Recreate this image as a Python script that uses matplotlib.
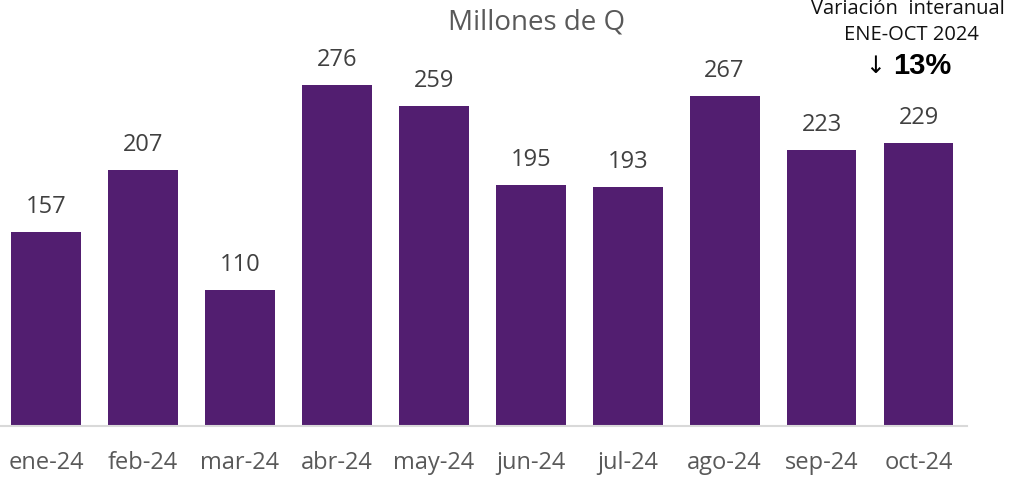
import matplotlib
matplotlib.use("Agg")
import matplotlib.pyplot as plt

categories = ["ene-24", "feb-24", "mar-24", "abr-24", "may-24", "jun-24",
              "jul-24", "ago-24", "sep-24", "oct-24"]
values = [157, 207, 110, 276, 259, 195, 193, 267, 223, 229]
title = "Millones de Q"
note_lines = ["Variación  interanual", "ENE-OCT 2024"]
note_arrow = "↓"
note_value = "13%"

plt.rcParams['font.family'] = ['Open Sans', 'DejaVu Sans']

W, H = 1010, 478
fig = plt.figure(figsize=(W / 100, H / 100), dpi=100)
base_px = 426
ax = fig.add_axes([0, (H - base_px) / H, 967 / W, base_px / H])

bar_color = "#521E70"
x = list(range(len(categories)))
ax.bar(x, values, width=0.72, color=bar_color, zorder=2)
ax.set_xlim(-0.474, 9.5)
ax.set_ylim(0, base_px / 1.236)

for xi, v in zip(x, values):
    ax.annotate(f"{v}", (xi, v), xytext=(0, 25), textcoords="offset pixels",
                ha="center", va="center", fontsize=17, color="#404040")

ax.set_xticks(x)
ax.set_xticklabels(categories, fontsize=17, color="#595959")
ax.tick_params(axis="x", length=0, pad=18)
ax.set_yticks([])
for s in ["top", "right", "left"]:
    ax.spines[s].set_visible(False)
ax.spines["bottom"].set_color("#D9D9D9")
ax.spines["bottom"].set_linewidth(1.5)

fig.text(537 / W, 1 - 22 / H, title, ha="center", va="center",
         fontsize=20, color="#595959")
fig.text(908 / W, 1 - 9 / H, note_lines[0], ha="center", va="center",
         fontsize=14.5, color="#111111")
fig.text(911 / W, 1 - 35 / H, note_lines[1], ha="center", va="center",
         fontsize=14.5, color="#111111")
fig.text(875 / W, 1 - 66 / H, note_arrow, ha="center", va="center",
         fontsize=17, color="#000000", family=['DejaVu Sans'])
fig.text(922 / W, 1 - 66 / H, note_value, ha="center", va="center",
         fontsize=21, color="#000000", fontweight="bold",
         family=['Liberation Sans', 'DejaVu Sans'])

fig.savefig("out.png", dpi=100)
